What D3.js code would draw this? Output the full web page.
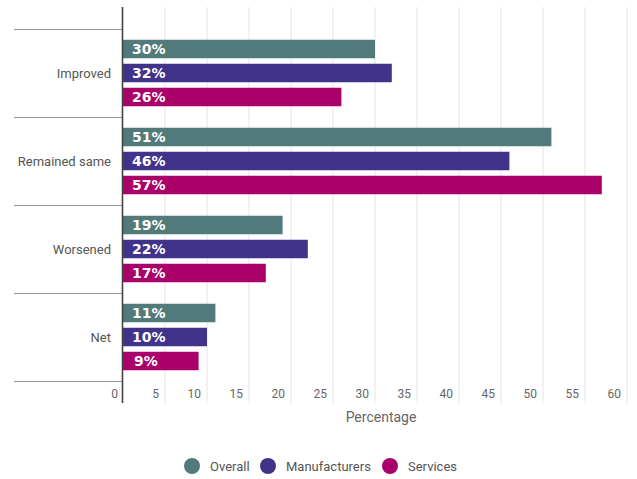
<!DOCTYPE html>
<html>
<head>
<meta charset="utf-8">
<script src="https://cdn.jsdelivr.net/npm/d3@7"></script>
<style>
  body { margin: 0; background: #fff; }
  text { font-family: Roboto, "Noto Sans", sans-serif; }
  text.val { font-family: "DejaVu Sans", sans-serif; font-weight: bold; }
</style>
</head>
<body>
<svg width="637" height="479"></svg>
<script>
var categories = ["Improved", "Remained same", "Worsened", "Net"];
var series = ["Overall", "Manufacturers", "Services"];
var colors = ["#527a7b", "#41338a", "#aa006a"];
var overall = [30, 51, 19, 11];
var manufacturers = [32, 46, 22, 10];
var services = [26, 57, 17, 9];
var ticks = [0, 5, 10, 15, 20, 25, 30, 35, 40, 45, 50, 55, 60];

var values = [overall, manufacturers, services];

var svg = d3.select("svg"),
    plotLeft = 123, plotRight = 627, plotTop = 29, plotBottom = 381;

var x = d3.scaleLinear().domain([0, 60]).range([plotLeft, plotRight]);
var y = d3.scaleBand().domain(categories).range([plotTop, plotBottom]);
var ys = d3.scaleBand().domain(series).range([0, y.bandwidth()])
    .paddingInner(0.229).paddingOuter(0.448);

// grid
svg.append("g").selectAll("line")
  .data(ticks.slice(1))
  .enter().append("line")
  .attr("x1", function(d) { return x(d); })
  .attr("x2", function(d) { return x(d); })
  .attr("y1", 7).attr("y2", 403)
  .attr("stroke", "#e6e6e6").attr("stroke-width", 1);

// tick labels (sit left of their grid line)
svg.append("g").selectAll("text")
  .data(ticks)
  .enter().append("text")
  .attr("x", function(d) { return x(d) - (d == 0 ? 5 : 6); })
  .attr("y", 398)
  .attr("text-anchor", "end")
  .attr("font-size", 12)
  .attr("fill", "#666")
  .text(function(d) { return d; });

// separators
var seps = categories.map(function(c) { return y(c); }).concat([plotBottom]);
svg.append("g").selectAll("line")
  .data(seps)
  .enter().append("line")
  .attr("x1", 14).attr("x2", plotLeft)
  .attr("y1", function(d) { return d + 0.5; })
  .attr("y2", function(d) { return d + 0.5; })
  .attr("stroke", "#999").attr("stroke-width", 1.2);

// category labels
svg.append("g").selectAll("text")
  .data(categories)
  .enter().append("text")
  .attr("x", 111)
  .attr("y", function(d) { return y(d) + y.bandwidth() / 2; })
  .attr("dy", "0.35em")
  .attr("text-anchor", "end")
  .attr("font-size", 13)
  .attr("fill", "#555")
  .text(function(d) { return d; });

// bars
series.forEach(function(s, si) {
  var gs = svg.append("g");
  gs.selectAll("rect")
    .data(values[si])
    .enter().append("rect")
    .attr("x", x(0))
    .attr("y", function(d, i) { return y(categories[i]) + ys(s); })
    .attr("width", function(d) { return x(d) - x(0); })
    .attr("height", ys.bandwidth())
    .attr("fill", colors[si]);
  gs.selectAll("text")
    .data(values[si])
    .enter().append("text")
    .attr("class", "val")
    .attr("x", function(d) { return x(0) + (d < 10 ? 11 : 9); })
    .attr("y", function(d, i) { return y(categories[i]) + ys(s) + ys.bandwidth() / 2; })
    .attr("dy", "0.36em")
    .attr("font-size", 14)
    .attr("fill", "#fff")
    .text(function(d) { return d + "%"; });
});

// axis line
svg.append("line")
  .attr("x1", plotLeft - 0.5).attr("x2", plotLeft - 0.5)
  .attr("y1", 7).attr("y2", 403)
  .attr("stroke", "#444").attr("stroke-width", 1.6);

// axis title
svg.append("text")
  .attr("x", 381).attr("y", 422)
  .attr("text-anchor", "middle")
  .attr("font-size", 14)
  .attr("fill", "#666")
  .text("Percentage");

// legend
var legendX = [192, 268, 390];
var leg = svg.append("g").selectAll("g")
  .data(series)
  .enter().append("g")
  .attr("transform", function(d, i) { return "translate(" + legendX[i] + ",466)"; });
leg.append("circle").attr("r", 8).attr("fill", function(d, i) { return colors[i]; });
leg.append("text")
  .attr("x", 18).attr("dy", "0.35em")
  .attr("font-size", 13)
  .attr("fill", "#555")
  .text(function(d) { return d; });
</script>
</body>
</html>
